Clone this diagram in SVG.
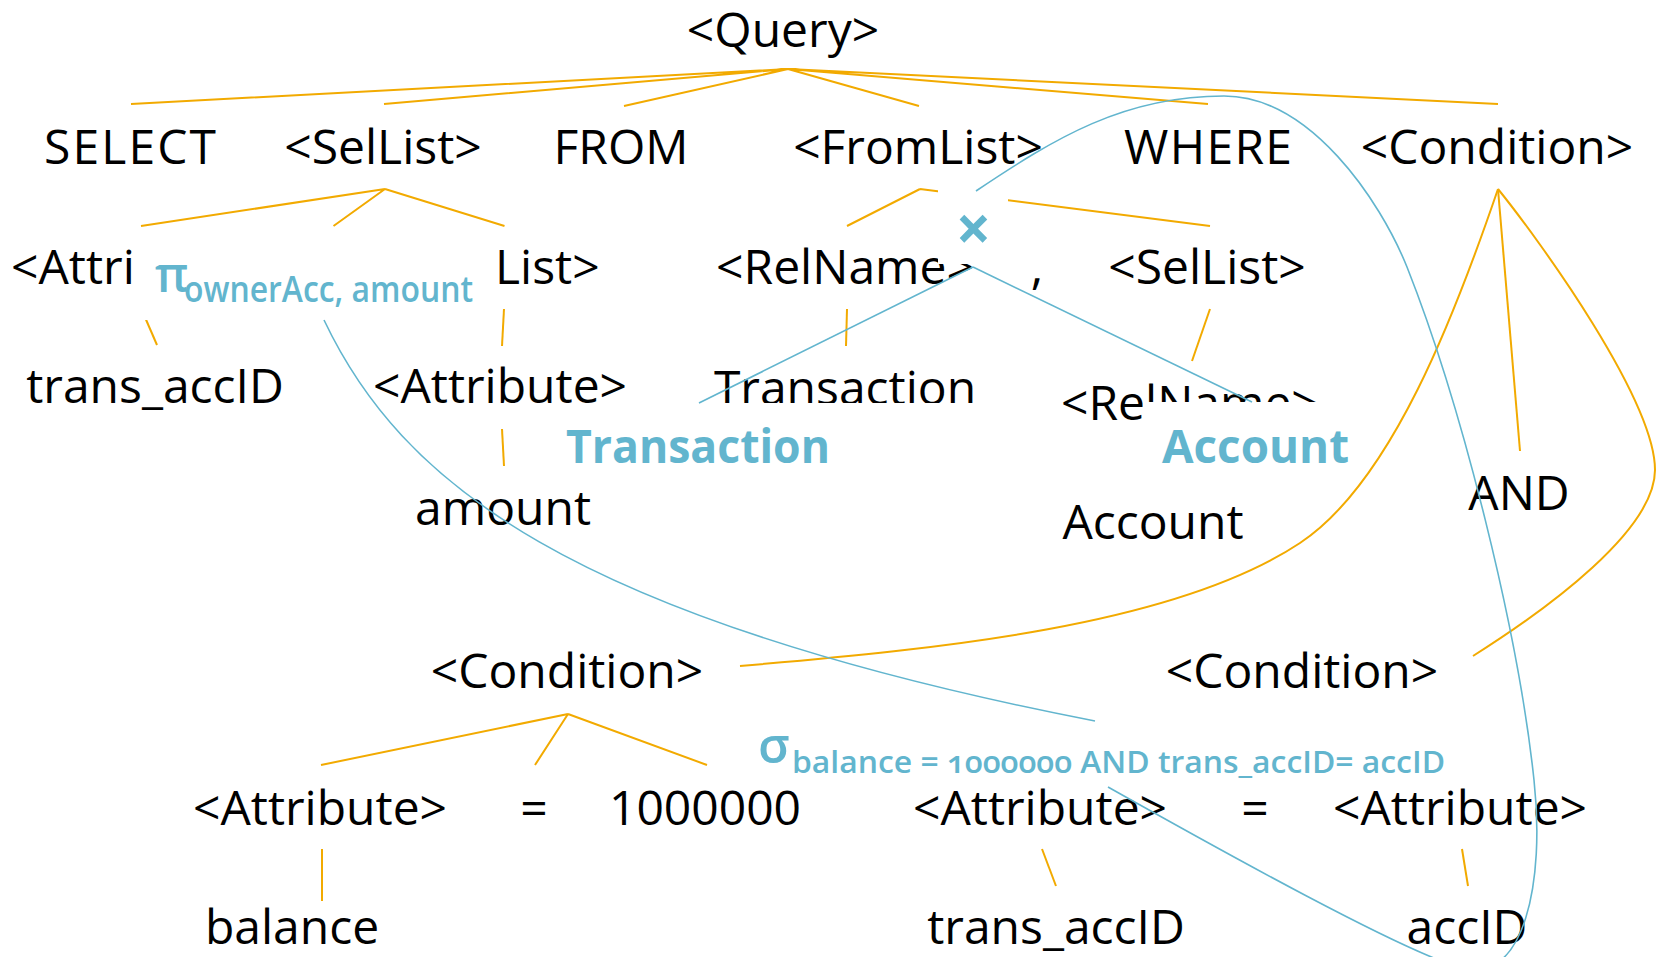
<svg xmlns="http://www.w3.org/2000/svg" width="1657" height="957" viewBox="0 0 1657 957">
  <style>
    .t { font-family: "Open Sans", "DejaVu Sans", sans-serif; font-size: 48px; fill: #000; text-anchor: middle; }
    .ts { font-family: "Open Sans", "DejaVu Sans", sans-serif; font-size: 48px; fill: #000; }
    .bl { font-family: "Open Sans", "DejaVu Sans", sans-serif; fill: #62B5CE; font-weight: 700; }
    .sub { font-family: "Open Sans", "DejaVu Sans", sans-serif; fill: #62B5CE; font-weight: 600; font-variant-numeric: oldstyle-nums; }
    .o { stroke: #F2AA00; stroke-width: 2; fill: none; }
    .c { stroke: #62B5CE; stroke-width: 1.6; fill: none; }
    .bg { fill: #fff; }
  </style>

  <!-- parse-tree edges -->
  <g id="tree-edges" class="o">
    <path d="M788,69 L131,104 M788,69 L384,104 M788,69 L624,106 M788,69 L919,106 M788,69 L1208,104 M788,69 L1498,104"/>
    <path d="M385,189 L141,226 M385,189 L333.5,226 M385,189 L504.5,226"/>
    <path d="M920,189 L847,226 M920,189 L1210,226"/>
    <path d="M1498,189 L1520,451"/>
    <path d="M1498,189 C1456,312 1392,482 1300,543 C1175,626 939,649 740,666"/>
    <path d="M1498,189 C1540,241 1655,400 1655,470 C1655,530 1549,608 1473,656"/>
    <path d="M144,315 L157,345"/>
    <path d="M504,309 L502,346"/>
    <path d="M847,309 L846,346"/>
    <path d="M1210,309 L1192,361"/>
    <path d="M502,429 L504,466"/>
    <path d="M568,714 L321,765 M568,714 L535,765 M568,714 L707,765"/>
    <path d="M322,849 L322,901"/>
    <path d="M1042,849 L1056,886"/>
    <path d="M1462,849 L1468,886"/>
  </g>

  <!-- parse-tree nodes -->
  <g id="n-query"><text class="t" x="783" y="47">&lt;Query&gt;</text></g>
  <g id="n-select"><text class="t" x="130" y="164" textLength="172">SELECT</text></g>
  <g id="n-sellist"><text class="t" x="383" y="164">&lt;SelList&gt;</text></g>
  <g id="n-from"><text class="t" x="621" y="164">FROM</text></g>
  <g id="n-fromlist"><text class="t" x="918" y="164">&lt;FromList&gt;</text></g>
  <g id="n-where"><text class="t" x="1208" y="164" textLength="168">WHERE</text></g>
  <g id="n-condition"><text class="t" x="1497" y="164">&lt;Condition&gt;</text></g>

  <g id="n-attr-a"><text class="ts" x="11" y="284">&lt;Attri</text></g>
  <g id="n-list-a"><text class="ts" x="495" y="284">List&gt;</text></g>
  <g id="n-relname-a"><text class="t" x="845" y="284">&lt;RelName&gt;</text></g>
  <g id="n-comma-b"><text class="t" x="1037" y="284">,</text></g>
  <g id="n-sellist-b"><text class="t" x="1207" y="284">&lt;SelList&gt;</text></g>

  <g id="n-transaccid-a"><text class="t" x="155" y="403">trans_accID</text></g>
  <g id="n-attr-b"><text class="t" x="500" y="403">&lt;Attribute&gt;</text></g>
  <g id="n-transaction"><text class="t" x="845" y="405">Transaction</text></g>
  <g id="n-relname-b"><text class="ts" x="1061" y="420">&lt;RelName&gt;</text></g>

  <g id="n-amount"><text class="t" x="503" y="525">amount</text></g>
  <g id="n-and"><text class="t" x="1519" y="510">AND</text></g>
  <g id="n-account"><text class="t" x="1153" y="539">Account</text></g>

  <g id="n-cond-left"><text class="t" x="567" y="688">&lt;Condition&gt;</text></g>
  <g id="n-cond-right"><text class="t" x="1302" y="688">&lt;Condition&gt;</text></g>

  <g id="n-attr-c"><text class="t" x="320" y="825">&lt;Attribute&gt;</text></g>
  <g id="n-eq-c"><text class="t" x="534" y="825">=</text></g>
  <g id="n-num"><text class="t" x="705" y="825">1000000</text></g>
  <g id="n-attr-d"><text class="t" x="1040" y="825">&lt;Attribute&gt;</text></g>
  <g id="n-eq-d"><text class="t" x="1255" y="825">=</text></g>
  <g id="n-attr-e"><text class="t" x="1460" y="825">&lt;Attribute&gt;</text></g>

  <g id="n-balance"><text class="t" x="292" y="944">balance</text></g>
  <g id="n-transaccid-b"><text class="t" x="1056" y="944">trans_accID</text></g>
  <g id="n-accid"><text class="t" x="1467" y="944">accID</text></g>

  <!-- relational-algebra plan nodes (opaque boxes) -->
  <g id="ra-project">
    <rect class="bg" x="140" y="234" width="356" height="86"/>
    <text class="sub" x="155" y="292" font-size="48">π</text>
    <text class="sub" x="184" y="302" font-size="36" textLength="289" lengthAdjust="spacingAndGlyphs">ownerAcc, amount</text>
  </g>
  <g id="ra-product">
    <rect class="bg" x="938" y="190" width="70" height="74"/>
    <text class="bl" x="973.5" y="251" font-size="62" font-weight="600" text-anchor="middle">×</text>
  </g>
  <g id="ra-transaction">
    <rect class="bg" x="560" y="403" width="415" height="85"/>
    <text class="bl" x="566" y="463" font-size="47" textLength="264" lengthAdjust="spacingAndGlyphs">Transaction</text>
  </g>
  <g id="ra-account">
    <rect class="bg" x="1143" y="402" width="190" height="86"/>
    <text class="bl" x="1162" y="463" font-size="47" textLength="187" lengthAdjust="spacingAndGlyphs">Account</text>
  </g>
  <g id="ra-select">
    <rect class="bg" x="752" y="721" width="698" height="66"/>
    <text class="sub" x="758" y="763" font-size="50">σ</text>
    <text class="sub" x="792" y="773" font-size="31" textLength="653" lengthAdjust="spacingAndGlyphs">balance = 1000000 AND trans_accID= accID</text>
  </g>

  <!-- plan edges -->
  <g id="plan-edges" class="c">
    <path d="M324,320 C400,480 565,618 1095,721"/>
    <path d="M973,267 L699,403"/>
    <path d="M973,267 L1252,402"/>
    <path d="M976,191 C1055,138 1124,96 1224,96 C1310,96 1380,200 1407,267 C1462,406 1518,630 1534,780 C1545,880 1525,985 1462,968 C1405,953 1220,850 1108,787"/>
  </g>
</svg>
